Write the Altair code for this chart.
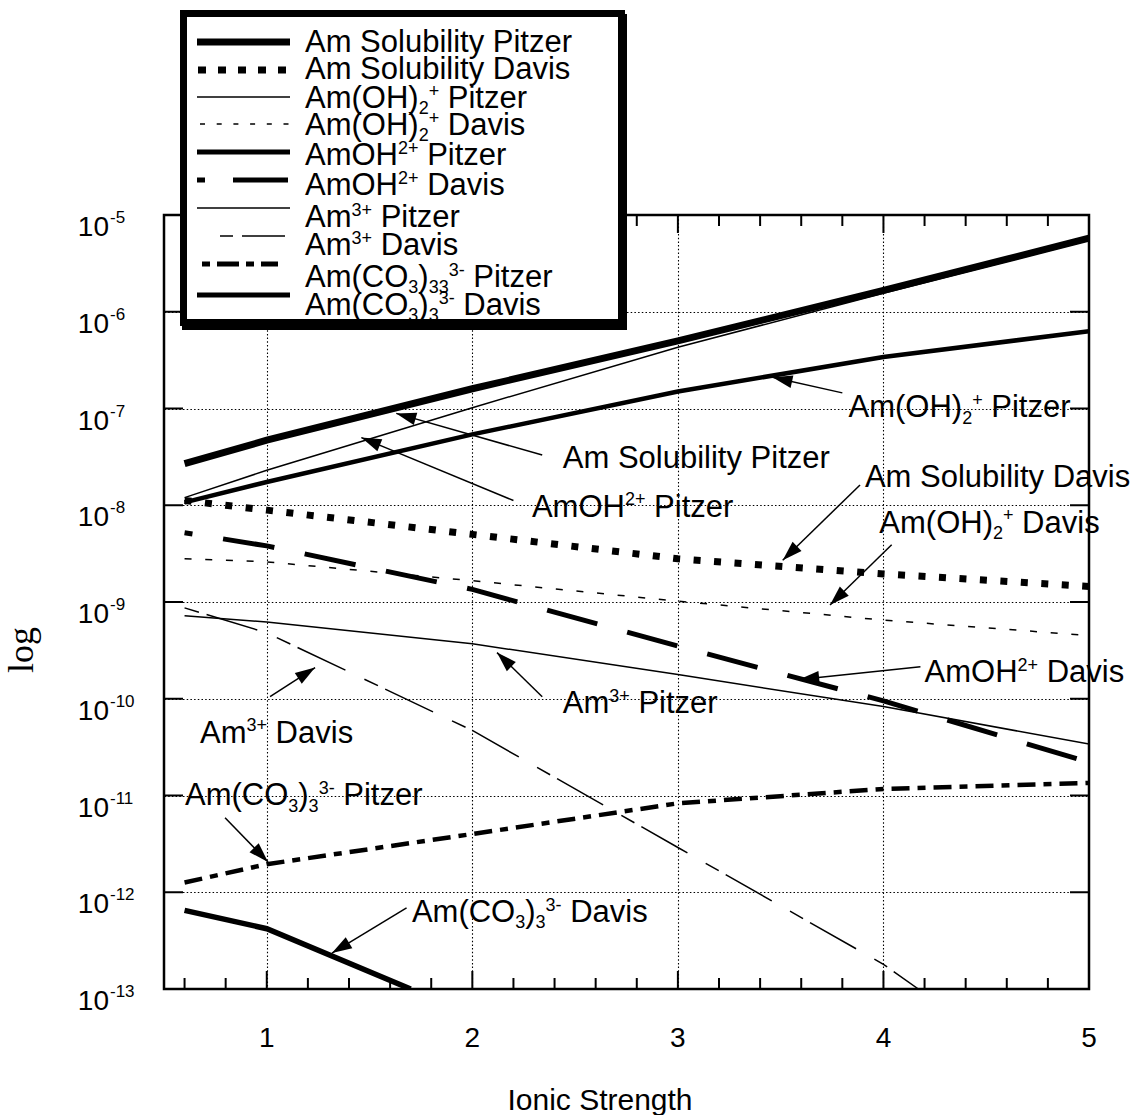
import math
import altair as alt
import pandas as pd

# ------------------------------------------------------------------ data
ionic_strength = [0.6, 1.0, 2.0, 3.0, 4.0, 5.0]
ionic_strength_am3_davis = [0.6, 1.0, 2.0, 3.0, 4.0, 4.17]
ionic_strength_amco3_davis = [0.6, 1.0, 1.7]

am_solubility_pitzer = [2.7e-8, 4.7e-8, 1.6e-7, 5.0e-7, 1.66e-6, 5.75e-6]
am_solubility_davis = [1.12e-8, 8.9e-9, 5.0e-9, 2.8e-9, 1.95e-9, 1.45e-9]
amoh_pitzer = [1.2e-8, 2.3e-8, 1.02e-7, 4.3e-7, 1.55e-6, 5.5e-6]
am_oh2_pitzer = [1.07e-8, 1.74e-8, 5.4e-8, 1.5e-7, 3.4e-7, 6.3e-7]
am_oh2_davis = [2.8e-9, 2.6e-9, 1.66e-9, 1.02e-9, 6.5e-10, 4.5e-10]
amoh_davis = [5.2e-9, 3.8e-9, 1.35e-9, 3.5e-10, 9.5e-11, 2.2e-11]
am3_pitzer = [7.2e-10, 6.2e-10, 3.7e-10, 1.78e-10, 8.3e-11, 3.4e-11]
am3_davis = [8.7e-10, 4.8e-10, 4.7e-11, 2.9e-12, 1.8e-13, 1.0e-13]
amco3_pitzer = [1.26e-12, 1.95e-12, 4.0e-12, 8.3e-12, 1.17e-11, 1.35e-11]
amco3_davis = [6.5e-13, 4.2e-13, 1.0e-13]

x_tick_values = [1, 2, 3, 4, 5]
x_tick_labels = ["1", "2", "3", "4", "5"]
x_major_ticks = [1, 2, 3, 4]
x_minor_ticks = [0.6, 0.8, 1.2, 1.4, 1.6, 1.8, 2.2, 2.4, 2.6, 2.8,
                 3.2, 3.4, 3.6, 3.8, 4.2, 4.4, 4.6, 4.8]
y_exponents = [-5, -6, -7, -8, -9, -10, -11, -12, -13]
y_inner_exponents = [-6, -7, -8, -9, -10, -11, -12]

legend_labels = [
    "Am Solubility Pitzer", "Am Solubility Davis",
    "Am(OH)_{2}^{+} Pitzer", "Am(OH)_{2}^{+} Davis",
    "AmOH^{2+} Pitzer", "AmOH^{2+} Davis",
    "Am^{3+} Pitzer", "Am^{3+} Davis",
    "Am(CO_{3})_{3}_{3}^{3-} Pitzer", "Am(CO_{3})_{3}^{3-} Davis",
]

# annotation label, text anchor (x, value), arrow tail, arrow tip
annot_labels = [
    "Am(OH)_{2}^{+} Pitzer", "Am Solubility Pitzer", "AmOH^{2+} Pitzer",
    "Am Solubility Davis", "Am(OH)_{2}^{+} Davis", "AmOH^{2+} Davis",
    "Am^{3+} Pitzer", "Am^{3+} Davis",
    "Am(CO_{3})_{3}^{3-} Pitzer", "Am(CO_{3})_{3}^{3-} Davis",
]
annot_text_x = [3.83, 2.44, 2.29, 3.91, 3.98, 4.20, 2.44, 0.675, 0.602, 1.706]
annot_text_v = [8.1e-8, 2.43e-8, 7.6e-9, 1.55e-8, 5.2e-9, 1.48e-10, 7.1e-11, 3.5e-11, 7.9e-12, 4.9e-13]
annot_tail_x = [3.80, 2.34, 2.20, 3.886, 4.04, 4.18, 2.34, 1.016, 0.797, 1.68]
annot_tail_v = [1.45e-7, 3.3e-8, 1.12e-8, 1.62e-8, 3.9e-9, 2.14e-10, 1.05e-10, 1.05e-10, 5.9e-12, 6.9e-13]
annot_tip_x = [3.46, 1.63, 1.46, 3.51, 3.74, 3.59, 2.12, 1.235, 1.006, 1.317]
annot_tip_v = [2.1e-7, 8.9e-8, 5.0e-8, 2.7e-9, 9.3e-10, 1.58e-10, 3.0e-10, 2.1e-10, 2.05e-12, 2.35e-13]

# ------------------------------------------------------------------ layout / style
W, H = 925, 774
X_DOMAIN = [0.5, 5.0]
Y_DOMAIN = [1e-13, 1e-5]
PX_PER_X = W / (X_DOMAIN[1] - X_DOMAIN[0])
PX_PER_DEC = H / (math.log10(Y_DOMAIN[1]) - math.log10(Y_DOMAIN[0]))

FONT = "Liberation Sans"
NARROW = "Liberation Sans Narrow, Liberation Sans"
SERIF = "Liberation Serif"
BIG, SMALL = 31, 18

series_styles = [
    (ionic_strength, am_solubility_pitzer, 7.0, None, 0),
    (ionic_strength, am_solubility_davis, 7.0, [7, 13.5], 0),
    (ionic_strength, amoh_pitzer, 1.5, None, 0),
    (ionic_strength, am_oh2_pitzer, 4.5, None, 0),
    (ionic_strength, am_oh2_davis, 1.5, [7, 13.7], 0),
    (ionic_strength, amoh_davis, 5.0, [52, 31], 44),
    (ionic_strength, am3_pitzer, 1.5, None, 0),
    (ionic_strength_am3_davis, am3_davis, 1.5, [15, 8, 53, 21], 0),
    (ionic_strength, amco3_pitzer, 4.5, [18, 8, 8, 8], 0),
    (ionic_strength_amco3_davis, amco3_davis, 5.5, None, 0),
]

legend_sample_y = [-173, -145, -118, -91, -63, -35, -7, 21, 49, 80]
legend_text_base = [-163, -136, -107, -80, -50, -20, 12, 40, 72, 100]
legend_text_x = 141
legend_samples = [
    (33, 126, 7, None), (34, 126, 7, [8, 12]), (33, 126, 1.5, None),
    (36, 126, 1.5, [5, 11.7]), (33, 126, 5, None), (33, 126, 5, [8, 28, 55, 20]),
    (33, 126, 1.5, None), (56, 121, 1.5, [13, 9, 43, 10]), (38, 114, 5, [8, 7, 22, 7]),
    (33, 126, 5, None),
]

ADV = {' ': 278, 'A': 667, 'm': 833, 'S': 667, 'o': 556, 'l': 222, 'u': 556,
       'b': 556, 'i': 222, 't': 278, 'y': 500, 'P': 667, 'z': 500, 'e': 556,
       'r': 333, 'D': 722, 'a': 556, 'v': 500, 's': 500, '(': 333, ')': 333,
       'O': 778, 'H': 722, 'C': 722, '+': 584, '-': 333}


def adv(s, size):
    return sum(ADV.get(c, 556) for c in s) * size / 1000.0


def parse_rich(s):
    parts, buf, i = [], "", 0
    while i < len(s):
        if s[i] in "_^" and i + 1 < len(s) and s[i + 1] == "{":
            if buf:
                parts.append((buf, "n"))
                buf = ""
            j = s.index("}", i)
            parts.append((s[i + 2:j], "sub" if s[i] == "_" else "sup"))
            i = j + 1
        else:
            buf += s[i]
            i += 1
    if buf:
        parts.append((buf, "n"))
    return parts


def layout(s, size=BIG, small=SMALL):
    rows, x = [], 0.0
    for txt, kind in parse_rich(s):
        fs = size if kind == "n" else small
        dy = 0.0 if kind == "n" else (0.2 * size if kind == "sub" else -0.37 * size)
        lead = len(txt) - len(txt.lstrip(" "))
        xo = x + adv(" " * lead, fs)
        rows.append(dict(t=txt.strip(" "), xo=xo, yo=dy, big=(kind == "n")))
        x += adv(txt, fs)
    return rows


grid_kw = dict(grid=True, gridColor="black", gridDash=[1.5, 2.2], gridWidth=1.1,
               gridOpacity=1, labels=False, ticks=False, domain=False)
xscale = alt.Scale(domain=X_DOMAIN, nice=False, zero=False)
yscale = alt.Scale(type="log", domain=Y_DOMAIN, nice=False)
xaxis = alt.Axis(values=x_major_ticks, **grid_kw)
yaxis = alt.Axis(values=[10.0 ** e for e in y_inner_exponents], **grid_kw)


def X(f):
    return alt.X(f, type="quantitative", scale=xscale, axis=xaxis, title=None)


def Y(f):
    return alt.Y(f, type="quantitative", scale=yscale, axis=yaxis, title=None)


one = pd.DataFrame({"k": [0]})
layers = []

# ---- data lines
for xs, ys, w, dash, off in series_styles:
    props = dict(color="black", strokeWidth=w, clip=True, strokeCap="butt")
    if dash:
        props["strokeDash"] = dash
        props["strokeDashOffset"] = off
    layers.append(alt.Chart(pd.DataFrame({"x": xs, "v": ys})).mark_line(**props)
                  .encode(x=X("x"), y=Y("v")))

# ---- inward ticks
tick = dict(color="black", strokeWidth=2)
layers.append(alt.Chart(pd.DataFrame({"x": x_major_ticks})).mark_rule(**tick)
              .encode(x=X("x"), y=alt.value(H), y2=alt.value(H - 18)))
layers.append(alt.Chart(pd.DataFrame({"x": x_minor_ticks})).mark_rule(**tick)
              .encode(x=X("x"), y=alt.value(H), y2=alt.value(H - 11)))
layers.append(alt.Chart(pd.DataFrame({"x": x_major_ticks})).mark_rule(**tick)
              .encode(x=X("x"), y=alt.value(0), y2=alt.value(18)))
layers.append(alt.Chart(pd.DataFrame({"x": x_minor_ticks})).mark_rule(**tick)
              .encode(x=X("x"), y=alt.value(0), y2=alt.value(11)))
ydec = pd.DataFrame({"v": [10.0 ** e for e in y_inner_exponents]})
layers.append(alt.Chart(ydec).mark_rule(**tick)
              .encode(y=Y("v"), x=alt.value(0), x2=alt.value(19)))
layers.append(alt.Chart(ydec).mark_rule(**tick)
              .encode(y=Y("v"), x=alt.value(W - 19), x2=alt.value(W)))

# ---- axis labels
xl = pd.DataFrame({"x": x_tick_values, "lab": x_tick_labels})
layers.append(alt.Chart(xl).mark_text(font=NARROW, fontSize=28, align="center",
                                      baseline="alphabetic", color="black")
              .encode(x=X("x"), y=alt.value(H + 58), text="lab:N"))
yl = pd.DataFrame({"v": [10.0 ** e for e in y_exponents],
                   "base": ["10"] * len(y_exponents),
                   "sup": [str(e) for e in y_exponents]})
layers.append(alt.Chart(yl).mark_text(font=NARROW, fontSize=28, align="right",
                                      baseline="alphabetic", dy=21, color="black")
              .encode(x=alt.value(-55), y=Y("v"), text="base:N"))
layers.append(alt.Chart(yl).mark_text(font=NARROW, fontSize=17, align="left",
                                      baseline="alphabetic", dy=8, color="black")
              .encode(x=alt.value(-54), y=Y("v"), text="sup:N"))
layers.append(alt.Chart(pd.DataFrame({"t": ["Ionic Strength"]}))
              .mark_text(font=FONT, fontSize=30, align="center", baseline="alphabetic", color="black")
              .encode(x=alt.value(436), y=alt.value(H + 121), text="t:N"))
layers.append(alt.Chart(pd.DataFrame({"t": ["log"]}))
              .mark_text(font=SERIF, fontSize=36, align="center", baseline="alphabetic",
                         angle=270, color="black")
              .encode(x=alt.value(-131), y=alt.value(435), text="t:N"))

# ---- annotations: arrows
arr = pd.DataFrame({"x": annot_tail_x, "v": annot_tail_v, "x2": annot_tip_x, "v2": annot_tip_v})
layers.append(alt.Chart(arr).mark_rule(color="black", strokeWidth=1.5)
              .encode(x=X("x"), y=Y("v"), x2=alt.X2("x2"), y2=alt.Y2("v2")))
angles = []
for tx, tv, hx, hv in zip(annot_tail_x, annot_tail_v, annot_tip_x, annot_tip_v):
    dxp = (hx - tx) * PX_PER_X
    dyp = -(math.log10(hv) - math.log10(tv)) * PX_PER_DEC
    angles.append(math.degrees(math.atan2(dxp, -dyp)) % 360)
heads = pd.DataFrame({"x": annot_tip_x, "v": annot_tip_v, "ang": angles})
layers.append(alt.Chart(heads).mark_point(shape="M0,0L-0.32,1L0.32,1Z", filled=True,
                                          size=1600, color="black", opacity=1)
              .encode(x=X("x"), y=Y("v"), angle=alt.Angle("ang:Q", scale=None)))

# ---- annotations: text runs (anchored in data space; run offsets converted
#      from pixels to data units through the scale factors)
arows = []
for lab, ax, av in zip(annot_labels, annot_text_x, annot_text_v):
    for r in layout(lab):
        arows.append(dict(t=r["t"], big=r["big"],
                          x=ax + r["xo"] / PX_PER_X,
                          v=av * 10.0 ** (-r["yo"] / PX_PER_DEC)))
adf = pd.DataFrame(arows)
for big, fs in ((True, BIG), (False, SMALL)):
    layers.append(alt.Chart(adf[adf["big"] == big]).mark_text(
        font=FONT, fontSize=fs, align="left", baseline="alphabetic", color="black")
        .encode(x=X("x"), y=Y("v"), text="t:N"))

# ---- legend box
layers.append(alt.Chart(one).mark_rect(fill="black", stroke="black", strokeWidth=7)
              .encode(x=alt.value(21.5), x2=alt.value(459.5), y=alt.value(-197.5), y2=alt.value(111.5)))
layers.append(alt.Chart(one).mark_rect(fill="white", stroke="black", strokeWidth=7)
              .encode(x=alt.value(19.5), x2=alt.value(457.5), y=alt.value(-201.5), y2=alt.value(107.5)))
for (x0, x1, w, dash), ly in zip(legend_samples, legend_sample_y):
    props = dict(color="black", strokeWidth=w, strokeCap="butt")
    if dash:
        props["strokeDash"] = dash
    layers.append(alt.Chart(one).mark_rule(**props)
                  .encode(x=alt.value(x0), x2=alt.value(x1), y=alt.value(ly)))
lrows = []
for lab, base in zip(legend_labels, legend_text_base):
    for r in layout(lab):
        lrows.append(dict(px=legend_text_x + r["xo"], py=base + r["yo"], t=r["t"], big=r["big"]))
ldf = pd.DataFrame(lrows)
for big, fs in ((True, BIG), (False, SMALL)):
    layers.append(alt.Chart(ldf[ldf["big"] == big]).mark_text(
        font=FONT, fontSize=fs, align="left", baseline="alphabetic", color="black")
        .encode(x=alt.X("px:Q", scale=None, axis=None),
                y=alt.Y("py:Q", scale=None, axis=None), text="t:N"))

chart = alt.layer(*layers).properties(
    width=W, height=H,
    padding={"left": 164, "top": 215, "right": 52, "bottom": 126},
    autosize=alt.AutoSizeParams(type="none"),
).configure_view(stroke="black", strokeWidth=2.5)

chart.save("out.html", embed_options={"renderer": "svg", "actions": False})
